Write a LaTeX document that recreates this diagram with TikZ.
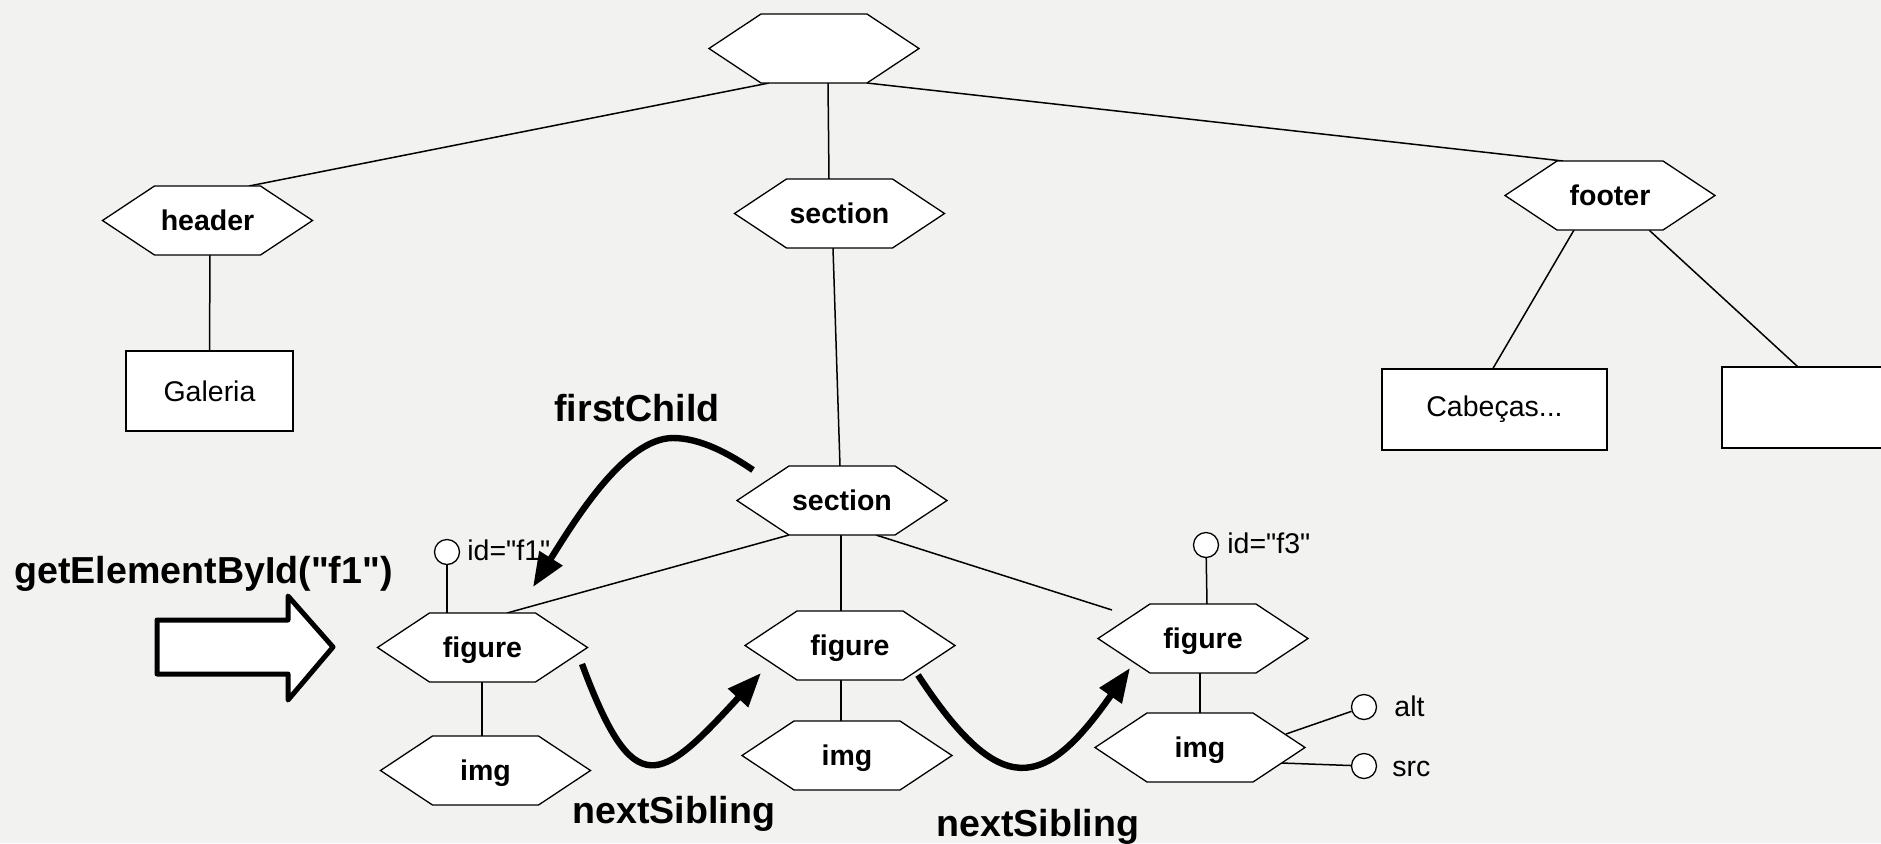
\documentclass[tikz,border=0pt]{standalone}
\usepackage{fontspec}
\setmainfont{Liberation Sans}[Ligatures=TeXOff]
\usetikzlibrary{calc,arrows.meta}
\pgfdeclarelayer{back}
\pgfdeclarelayer{wires}
\pgfsetlayers{back,wires,main}
\definecolor{paper}{RGB}{242,242,240}
\newcommand{\nodefont}{\fontsize{14.25pt}{17pt}\selectfont}
\newcommand{\labelfont}{\fontsize{18.8pt}{22pt}\selectfont\bfseries}

\tikzset{
  hexnode/.style={minimum width=107pt, minimum height=36.5pt, inner sep=0pt,
    text height=9.75pt, text depth=0pt,
    font=\nodefont\bfseries,
    path picture={
      \draw[fill=white, line width=0.65pt, line join=miter]
        ([xshift=1pt]path picture bounding box.west)
        -- ([xshift=27pt,yshift=-1pt]path picture bounding box.north west)
        -- ([xshift=-27pt,yshift=-1pt]path picture bounding box.north east)
        -- ([xshift=-1pt]path picture bounding box.east)
        -- ([xshift=-27pt,yshift=1pt]path picture bounding box.south east)
        -- ([xshift=27pt,yshift=1pt]path picture bounding box.south west)
        -- cycle;}},
  textbox/.style={draw, fill=white, line width=0.65pt, inner sep=0pt, font=\nodefont},
  attrdot/.style={circle, draw, fill=white, line width=0.65pt, minimum size=12.5pt, inner sep=0pt},
  attrtext/.style={anchor=base west, inner sep=0pt, font=\nodefont},
  caption/.style={anchor=base west, inner sep=0pt, font=\labelfont},
  wire/.style={line width=0.75pt},
  hop/.style={line width=3.2pt, -{Triangle[length=17pt,width=13pt]}},
  bigarrow/.style={draw, fill=white, line width=2.5pt, line join=round},
}

\begin{document}
\begin{tikzpicture}[x=0.5pt, y=-0.5pt]
  \useasboundingbox (0,0) rectangle (1881,843);
  \begin{pgfonlayer}{back}
    \fill[paper] (0,0) rectangle (1881,843);
  \end{pgfonlayer}

  % document tree
  \node[hexnode] (root)   at (814,48.5)   {};
  \node[hexnode] (header) at (207.5,220.5) {header};
  \node[hexnode] (sec1)   at (839.5,213.5) {section};
  \node[hexnode] (footer) at (1610,195.5)  {footer};
  \node[hexnode] (sec2)   at (842,500.5)   {section};
  \node[hexnode] (fig1)   at (482.5,647.5) {figure};
  \node[hexnode] (img1)   at (485.5,770.5) {img};
  \node[hexnode] (fig2)   at (850,645.5)   {figure};
  \node[hexnode] (img2)   at (847,755.5)   {img};
  \node[hexnode] (fig3)   at (1203,638.5)  {figure};
  \node[hexnode] (img3)   at (1200,747.5)  {img};

  \node[textbox, minimum width=83.5pt, minimum height=40pt]  (galeria) at (209.5,391)   {Galeria};
  \node[textbox, minimum width=112.5pt, minimum height=40.5pt] (cabecas) at (1494.5,409.5) {Cabeças...};
  \node[textbox, minimum width=112.5pt, minimum height=40.5pt] (blank)   at (1834.5,407.5) {};

  % attributes
  \node[attrdot] (idf1dot) at (447,552) {};
  \node[attrtext] (idf1) at (467,560) {id="f1"};
  \node[attrdot] (idf3dot) at (1206,545) {};
  \node[attrtext] (idf3) at (1227,553) {id="f3"};
  \node[attrdot] (altdot) at (1364,707) {};
  \node[attrtext] (altlbl) at (1394,716) {alt};
  \node[attrdot] (srcdot) at (1364,766) {};
  \node[attrtext] (srclbl) at (1392,776) {src};

  \coordinate (f3stub) at (1112,610);

  \begin{pgfonlayer}{wires}
    \draw[wire] ($(root.center)+(-45,34.5)$) -- ($(header.center)+(41.5,-34.5)$);
    \draw[wire] ($(root.center)+(14,34.5)$) -- ($(sec1.center)+(-10.5,-34.5)$);
    \draw[wire] ($(root.center)+(53,34.5)$) -- ($(footer.center)+(-47,-34.5)$);
    \draw[wire] ($(header.center)+(2.5,34.5)$) -- (galeria.north);
    \draw[wire] ($(sec1.center)+(-6.5,34.5)$) -- ($(sec2.center)+(-2,-34.5)$);
    \draw[wire] ($(footer.center)+(-36,34.5)$) -- ($(cabecas.north)+(-1.5,0)$);
    \draw[wire] ($(footer.center)+(39,34.5)$) -- ($(blank.north west)+(76,0)$);
    \draw[wire] ($(sec2.center)+(-53,34.5)$) -- ($(fig1.center)+(24.5,-34.5)$);
    \draw[wire] ($(sec2.center)+(-1,34.5)$) -- ($(fig2.center)+(-9,-34.5)$);
    \draw[wire] ($(sec2.center)+(34,34.5)$) -- (f3stub);
    \draw[wire] ($(fig1.center)+(-0.5,34.5)$) -- ($(img1.center)+(-3.5,-34.5)$);
    \draw[wire] ($(fig2.center)+(-9,34.5)$) -- ($(img2.center)+(-6,-34.5)$);
    \draw[wire] ($(fig3.center)+(-3,34.5)$) -- ($(img3.center)+(0,-34.5)$);
    \draw[wire] (idf1dot) -- ($(fig1.center)+(-35.5,-34.5)$);
    \draw[wire] (idf3dot) -- ($(fig3.center)+(4,-34.5)$);
    \draw[wire] ($(img3.center)+(86,-13.5)$) -- (altdot);
    \draw[wire] ($(img3.center)+(81.5,15.5)$) -- (srcdot);
  \end{pgfonlayer}

  % navigation
  \node[caption] (getlbl)   at (14,583)  {getElementById("f1")};
  \node[caption] (firstlbl) at (554,421) {firstChild};
  \node[caption] (next1lbl) at (572,823) {nextSibling};
  \node[caption] (next2lbl) at (936,836) {nextSibling};

  \draw[bigarrow] (157,620) -- (288,620) -- (288,596) -- (333,647)
    -- (288,700) -- (288,674) -- (157,674) -- cycle;

  \draw[hop] ($(sec2.center)+(-89,-30.5)$)
    .. controls (728,453) and (700,438) .. (673,438)
    .. controls (625,438) and (575,520) .. ($(fig1.center)+(50.5,-60.5)$);
  \draw[hop] ($(fig1.center)+(99.5,16.5)$)
    .. controls (634,804) and (660,783) .. ($(fig2.center)+(-89,27.5)$);
  \draw[hop] ($(fig2.center)+(68,29.5)$)
    .. controls (1000,800) and (1044,791) .. ($(fig3.center)+(-73,29.5)$);
\end{tikzpicture}
\end{document}
